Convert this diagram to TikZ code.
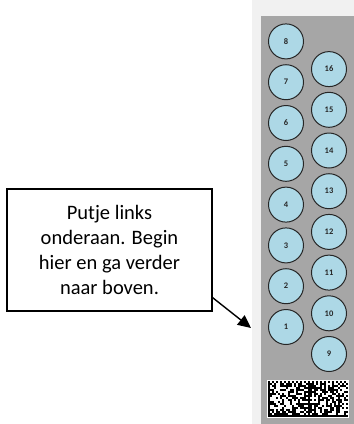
\documentclass[tikz,border=0pt]{standalone}
\usepackage{fontspec}
\setmainfont{Carlito}
\usetikzlibrary{arrows.meta}
\definecolor{rand}{RGB}{241,241,241}
\definecolor{paneel}{RGB}{166,166,166}
\definecolor{putblauw}{RGB}{173,216,230}
\tikzset{
  put/.style={circle,draw=black!85,fill=putblauw,line width=1pt,minimum size=35pt,
    inner sep=0pt,font=\fontsize{8.5}{9}\selectfont\bfseries,text=black!85},
  uitleg/.style={draw,line width=1.3pt,fill=white,minimum width=205pt,minimum height=122pt,
    align=center,font=\fontsize{20.5}{25}\selectfont},
  pijl/.style={-{Triangle[length=13pt,width=12pt]},line width=1.4pt}
}
\begin{document}
\begin{tikzpicture}[x=1pt,y=-1pt]
        \useasboundingbox (0,0) rectangle (354,424);
        % panel
        \fill[rand] (252,0) rectangle (354,424);
        \fill[paneel] (261,16) rectangle (354,424);
        % putjes
        \foreach \i in {1,...,8}
            \node[put] (p\i) at (286,{327-40.8*(\i-1)}) {\i};
        \foreach \i in {9,...,16}
            \node[put] (p\i) at (329,{354-40.7*(\i-9)}) {\i};
        % barcode
        \fill[white] (267,380) rectangle (349,418);
        \pgfmathsetseed{1234}
        \foreach \c in {0,...,39}{
          \foreach \r in {0,...,17}{
            \pgfmathtruncatemacro{\lc}{mod(\c,20)}
            \pgfmathtruncatemacro{\rnd}{random(0,1)}
            \pgfmathtruncatemacro{\zw}{(\lc==0)||(\r==17)||((\r==0)&&(mod(\lc,2)==0))||((\lc==19)&&(mod(\r,2)==1))||((\lc>0)&&(\lc<19)&&(\r>0)&&(\r<17)&&(\rnd==1))}
            \ifnum\zw=1 \fill (268+2*\c,381+2*\r) rectangle ++(2,2); \fi
          }
        }
        % text
        \node[uitleg] (uitleg) at (109.5,250) {Putje links\\onderaan. Begin\\hier en ga verder\\naar boven.};
        %
        \coordinate (tip) at (251,328);
        \draw[pijl] ([yshift=14pt]uitleg.south east) -- (tip);
\end{tikzpicture}
\end{document}
